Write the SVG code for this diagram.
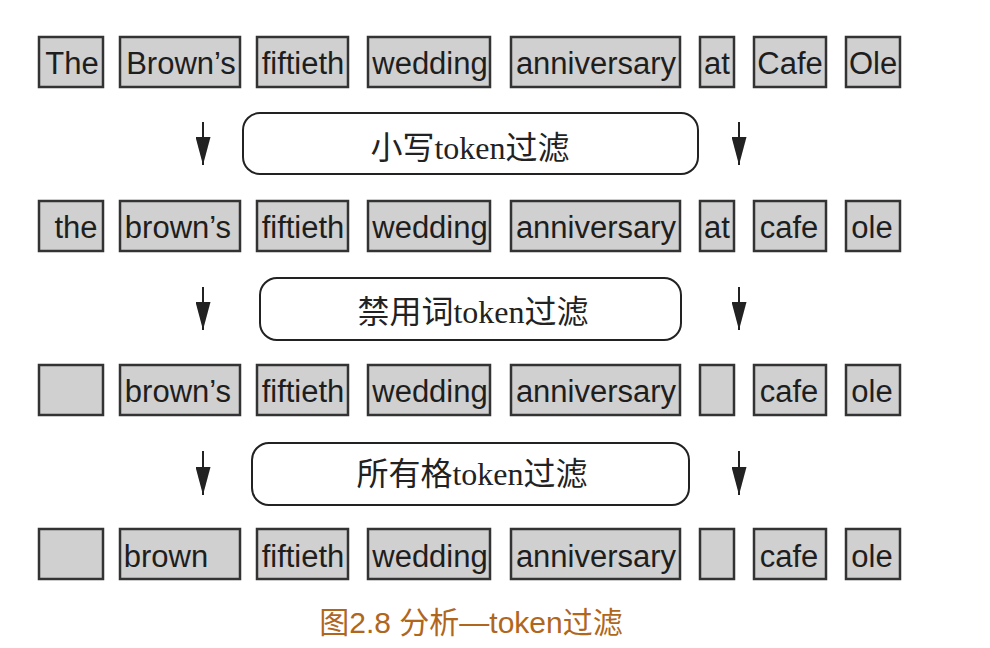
<svg xmlns="http://www.w3.org/2000/svg" width="990" height="648" viewBox="0 0 990 648">
<defs>
<style>
.tok{fill:#d0d0d0;stroke:#333;stroke-width:2.5}
.tt{font-family:"Liberation Sans",Arial,sans-serif;font-size:31px;fill:#1e1e1e;text-anchor:middle}
.flt{fill:#fff;stroke:#222;stroke-width:2}
.ft{font-family:"Liberation Serif","Noto Sans CJK SC",serif;font-size:32px;fill:#222;text-anchor:middle}
.ar{stroke:#222;stroke-width:2;fill:none}
.cap{font-family:"Liberation Sans","Noto Sans CJK SC",sans-serif;font-size:30px;fill:#b0661c;text-anchor:middle}
</style>
<marker id="ah" viewBox="0 0 28 15" refX="28" refY="7.5" markerWidth="28" markerHeight="15" markerUnits="userSpaceOnUse" orient="auto">
<path d="M0,0 L28,7.5 L0,15 Z" fill="#222"/>
</marker>
</defs>
<rect width="990" height="648" fill="#fff"/>

<g id="row1">
<g id="r1-the"><rect class="tok" x="39" y="37" width="64" height="50"/><text class="tt" x="72" y="74">The</text></g>
<g id="r1-browns"><rect class="tok" x="120" y="37" width="120" height="50"/><text class="tt" x="181" y="74">Brown’s</text></g>
<g id="r1-fiftieth"><rect class="tok" x="257" y="37" width="91" height="50"/><text class="tt" x="303" y="74">fiftieth</text></g>
<g id="r1-wedding"><rect class="tok" x="368" y="37" width="122" height="50"/><text class="tt" x="430" y="74">wedding</text></g>
<g id="r1-anniversary"><rect class="tok" x="511" y="37" width="169" height="50"/><text class="tt" x="596" y="74">anniversary</text></g>
<g id="r1-at"><rect class="tok" x="700" y="37" width="34" height="50"/><text class="tt" x="717" y="74">at</text></g>
<g id="r1-cafe"><rect class="tok" x="754" y="37" width="72" height="50"/><text class="tt" x="790" y="74">Cafe</text></g>
<g id="r1-ole"><rect class="tok" x="846" y="37" width="54" height="50"/><text class="tt" x="873" y="74">Ole</text></g>
</g>

<g id="filter1"><rect class="flt" x="243" y="113" width="455" height="61" rx="17"/><text class="ft" x="470" y="159">小写token过滤</text></g>

<g id="row2">
<g id="r2-the"><rect class="tok" x="39" y="201" width="64" height="50"/><text class="tt" x="76" y="238">the</text></g>
<g id="r2-browns"><rect class="tok" x="120" y="201" width="120" height="50"/><text class="tt" x="178" y="238">brown’s</text></g>
<g id="r2-fiftieth"><rect class="tok" x="257" y="201" width="91" height="50"/><text class="tt" x="303" y="238">fiftieth</text></g>
<g id="r2-wedding"><rect class="tok" x="368" y="201" width="122" height="50"/><text class="tt" x="430" y="238">wedding</text></g>
<g id="r2-anniversary"><rect class="tok" x="511" y="201" width="169" height="50"/><text class="tt" x="596" y="238">anniversary</text></g>
<g id="r2-at"><rect class="tok" x="700" y="201" width="34" height="50"/><text class="tt" x="717" y="238">at</text></g>
<g id="r2-cafe"><rect class="tok" x="754" y="201" width="72" height="50"/><text class="tt" x="789" y="238">cafe</text></g>
<g id="r2-ole"><rect class="tok" x="846" y="201" width="54" height="50"/><text class="tt" x="872" y="238">ole</text></g>
</g>

<g id="filter2"><rect class="flt" x="260" y="278" width="421" height="62" rx="17"/><text class="ft" x="473" y="323">禁用词token过滤</text></g>

<g id="row3">
<g id="r3-empty1"><rect class="tok" x="39" y="365" width="64" height="50"/></g>
<g id="r3-browns"><rect class="tok" x="120" y="365" width="120" height="50"/><text class="tt" x="178" y="402">brown’s</text></g>
<g id="r3-fiftieth"><rect class="tok" x="257" y="365" width="91" height="50"/><text class="tt" x="303" y="402">fiftieth</text></g>
<g id="r3-wedding"><rect class="tok" x="368" y="365" width="122" height="50"/><text class="tt" x="430" y="402">wedding</text></g>
<g id="r3-anniversary"><rect class="tok" x="511" y="365" width="169" height="50"/><text class="tt" x="596" y="402">anniversary</text></g>
<g id="r3-empty2"><rect class="tok" x="700" y="365" width="34" height="50"/></g>
<g id="r3-cafe"><rect class="tok" x="754" y="365" width="72" height="50"/><text class="tt" x="789" y="402">cafe</text></g>
<g id="r3-ole"><rect class="tok" x="846" y="365" width="54" height="50"/><text class="tt" x="872" y="402">ole</text></g>
</g>

<g id="filter3"><rect class="flt" x="252" y="443" width="437" height="62" rx="17"/><text class="ft" x="472" y="485">所有格token过滤</text></g>

<g id="row4">
<g id="r4-empty1"><rect class="tok" x="39" y="529" width="64" height="50"/></g>
<g id="r4-brown"><rect class="tok" x="120" y="529" width="120" height="50"/><text class="tt" x="166" y="567">brown</text></g>
<g id="r4-fiftieth"><rect class="tok" x="257" y="529" width="91" height="50"/><text class="tt" x="303" y="567">fiftieth</text></g>
<g id="r4-wedding"><rect class="tok" x="368" y="529" width="122" height="50"/><text class="tt" x="430" y="567">wedding</text></g>
<g id="r4-anniversary"><rect class="tok" x="511" y="529" width="169" height="50"/><text class="tt" x="596" y="567">anniversary</text></g>
<g id="r4-empty2"><rect class="tok" x="700" y="529" width="34" height="50"/></g>
<g id="r4-cafe"><rect class="tok" x="754" y="529" width="72" height="50"/><text class="tt" x="789" y="567">cafe</text></g>
<g id="r4-ole"><rect class="tok" x="846" y="529" width="54" height="50"/><text class="tt" x="872" y="567">ole</text></g>
</g>

<g id="connectors">
<line class="ar" x1="203" y1="122" x2="203" y2="165" marker-end="url(#ah)"/>
<line class="ar" x1="739" y1="122" x2="739" y2="165" marker-end="url(#ah)"/>
<line class="ar" x1="203" y1="287" x2="203" y2="330" marker-end="url(#ah)"/>
<line class="ar" x1="739" y1="287" x2="739" y2="330" marker-end="url(#ah)"/>
<line class="ar" x1="203" y1="451" x2="203" y2="495" marker-end="url(#ah)"/>
<line class="ar" x1="739" y1="451" x2="739" y2="495" marker-end="url(#ah)"/>
</g>

<text class="cap" x="471" y="633">图2.8 分析—token过滤</text>
</svg>
